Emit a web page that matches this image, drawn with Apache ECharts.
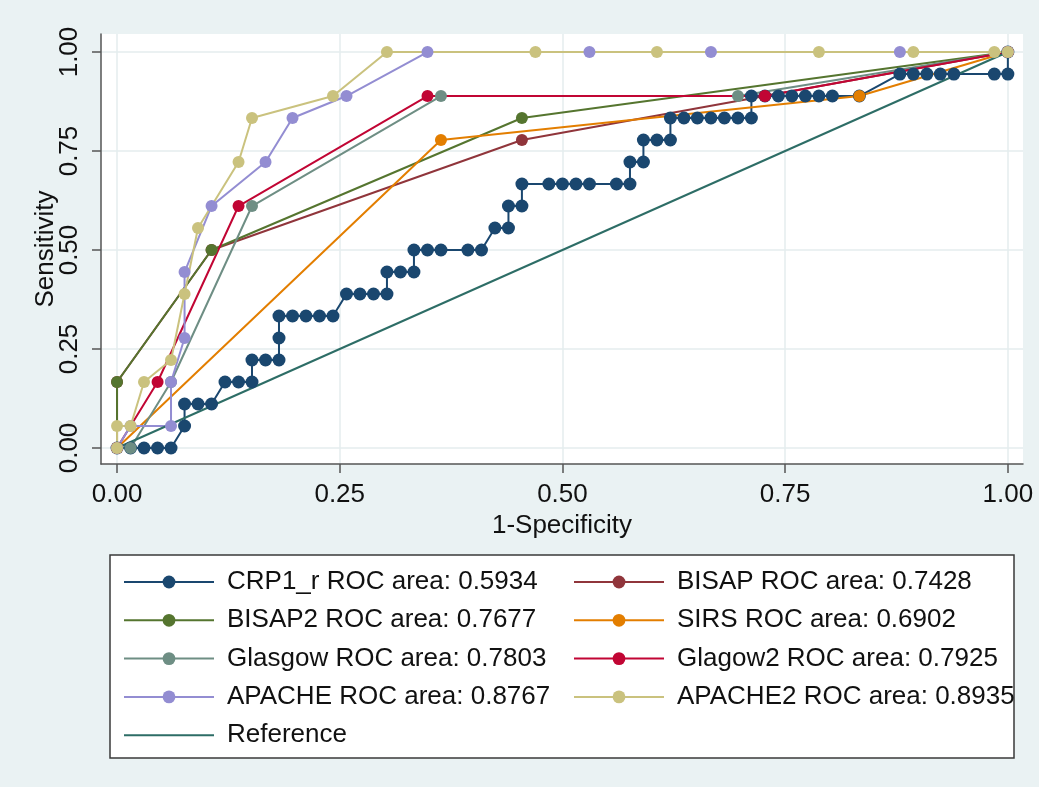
<!DOCTYPE html>
<html>
<head>
<meta charset="utf-8">
<script src="https://cdn.jsdelivr.net/npm/echarts@6/dist/echarts.min.js"></script>
<style>
  html, body { margin: 0; padding: 0; background: #eaf2f3; }
  #chart_1 { width: 1039px; height: 787px; }
</style>
</head>
<body>
<div id="chart_1"></div>
<script>
// tick values on both axes
var xTicks = [0, 0.25, 0.5, 0.75, 1];
var yTicks = [0, 0.25, 0.5, 0.75, 1];

// ROC points, 1-specificity (x) and sensitivity (y)
var crpX = [0, 0.0152, 0.0303, 0.0455, 0.0606, 0.0758, 0.0758, 0.0909, 0.1061, 0.1212, 0.1364, 0.1515,
  0.1515, 0.1667, 0.1818, 0.1818, 0.1818, 0.1970, 0.2121, 0.2273, 0.2424, 0.2576, 0.2727, 0.2879, 0.3030,
  0.3030, 0.3182, 0.3333, 0.3333, 0.3485, 0.3636, 0.3939, 0.4091, 0.4242, 0.4394, 0.4394, 0.4545,
  0.4545, 0.4848, 0.5000, 0.5152, 0.5303, 0.5606, 0.5758, 0.5758, 0.5909, 0.5909, 0.6061, 0.6212,
  0.6212, 0.6364, 0.6515, 0.6667, 0.6818, 0.6970, 0.7121, 0.7121, 0.7273, 0.7424, 0.7576, 0.7727, 0.7879,
  0.8030, 0.8333, 0.8788, 0.8939, 0.9091, 0.9242, 0.9394, 0.9848, 1, 1];
var crpY = [0, 0, 0, 0, 0, 0.0556, 0.1111, 0.1111, 0.1111, 0.1667, 0.1667, 0.1667,
  0.2222, 0.2222, 0.2222, 0.2778, 0.3333, 0.3333, 0.3333, 0.3333, 0.3333, 0.3889, 0.3889, 0.3889, 0.3889,
  0.4444, 0.4444, 0.4444, 0.5, 0.5, 0.5, 0.5, 0.5, 0.5556, 0.5556, 0.6111, 0.6111,
  0.6667, 0.6667, 0.6667, 0.6667, 0.6667, 0.6667, 0.6667, 0.7222, 0.7222, 0.7778, 0.7778, 0.7778,
  0.8333, 0.8333, 0.8333, 0.8333, 0.8333, 0.8333, 0.8333, 0.8889, 0.8889, 0.8889, 0.8889, 0.8889, 0.8889,
  0.8889, 0.8889, 0.9444, 0.9444, 0.9444, 0.9444, 0.9444, 0.9444, 0.9444, 1];

var bisapX = [0, 0, 0.1061, 0.4545, 0.7273, 1];
var bisapY = [0, 0.1667, 0.5, 0.7778, 0.8889, 1];

var bisap2X = [0, 0, 0.1061, 0.4545, 1];
var bisap2Y = [0, 0.1667, 0.5, 0.8333, 1];

var sirsX = [0, 0.3636, 0.8333, 1];
var sirsY = [0, 0.7778, 0.8889, 1];

var glasgowX = [0, 0.0152, 0.0606, 0.1515, 0.3636, 0.6970, 1];
var glasgowY = [0, 0, 0.1667, 0.6111, 0.8889, 0.8889, 1];

var glagow2X = [0, 0.0455, 0.1364, 0.3485, 0.7273, 1];
var glagow2Y = [0, 0.1667, 0.6111, 0.8889, 0.8889, 1];

var apacheX = [0, 0.0152, 0.0606, 0.0606, 0.0758, 0.0758, 0.1061, 0.1667, 0.1970, 0.2576, 0.3485, 0.5303, 0.6667, 0.8788, 1];
var apacheY = [0, 0.0556, 0.0556, 0.1667, 0.2778, 0.4444, 0.6111, 0.7222, 0.8333, 0.8889, 1, 1, 1, 1, 1];

var apache2X = [0, 0, 0.0152, 0.0303, 0.0606, 0.0758, 0.0909, 0.1364, 0.1515, 0.2424, 0.3030, 0.4697, 0.6061, 0.7879, 0.8939, 0.9848, 1];
var apache2Y = [0, 0.0556, 0.0556, 0.1667, 0.2222, 0.3889, 0.5556, 0.7222, 0.8333, 0.8889, 1, 1, 1, 1, 1, 1, 1];

var refX = [0, 1];
var refY = [0, 1];

var names = ['CRP1_r ROC area: 0.5934', 'BISAP ROC area: 0.7428', 'BISAP2 ROC area: 0.7677',
  'SIRS ROC area: 0.6902', 'Glasgow ROC area: 0.7803', 'Glagow2 ROC area: 0.7925',
  'APACHE ROC area: 0.8767', 'APACHE2 ROC area: 0.8935', 'Reference'];
var colors = ['#1a476f', '#90353b', '#55752f', '#e37e00', '#6e8e84', '#c10534', '#938dd2', '#cac27e', '#2d6d66'];

function pairs(xs, ys) {
    var out = [];
    for (var i = 0; i < xs.length; i++) out.push([xs[i], ys[i]]);
    return out;
}

var myChart = echarts.init(document.getElementById('chart_1'));
var font = 'Liberation Sans, Arial, sans-serif';
var textCol = '#111';

var allX = [crpX, bisapX, bisap2X, sirsX, glasgowX, glagow2X, apacheX, apache2X, refX];
var allY = [crpY, bisapY, bisap2Y, sirsY, glasgowY, glagow2Y, apacheY, apache2Y, refY];

var series = [];
for (var i = 0; i < names.length; i++) {
    var isRef = (i === names.length - 1);
    series.push({
        name: names[i],
        type: 'line',
        data: pairs(allX[i], allY[i]),
        symbol: isRef ? 'none' : 'circle',
        symbolSize: i === 0 ? 13 : 12,
        showAllSymbol: true,
        color: colors[i],
        lineStyle: { color: colors[i], width: 2 },
        itemStyle: { color: colors[i] },
        emphasis: { disabled: true }
    });
}

var legendText = { fontSize: 26, fontFamily: font, color: textCol, padding: [0, 0, 0, 8], lineHeight: 30 };

option = {
    backgroundColor: '#eaf2f3',
    animation: false,
    textStyle: { fontFamily: font },
    grid: {
        left: 101, top: 34, width: 922, height: 430,
        show: true, backgroundColor: '#ffffff', borderWidth: 0
    },
    graphic: [{
        type: 'rect',
        z: 0,
        shape: { x: 110, y: 555, width: 904, height: 203 },
        style: { fill: '#ffffff', stroke: '#3a3a3a', lineWidth: 1.5 }
    }],
    legend: [{
        orient: 'vertical', left: 123, top: 567, padding: 0,
        data: [names[0], names[2], names[4], names[6],
            { name: names[8], itemStyle: { opacity: 0 } }],
        itemWidth: 90, itemHeight: 16, itemGap: 8.3,
        textStyle: legendText, selectedMode: false
    }, {
        orient: 'vertical', left: 573, top: 567, padding: 0,
        data: [names[1], names[3], names[5], names[7]],
        itemWidth: 90, itemHeight: 16, itemGap: 8.3,
        textStyle: legendText, selectedMode: false
    }],
    xAxis: {
        type: 'value', min: -0.018, max: 1.017,
        name: '1-Specificity', nameLocation: 'middle', nameGap: 42,
        nameTextStyle: { fontSize: 26, color: textCol, fontFamily: font },
        axisLine: { show: true, onZero: false, lineStyle: { color: '#555', width: 1.5 } },
        axisTick: { show: true, length: 9, customValues: xTicks, lineStyle: { color: '#555', width: 1.5 } },
        axisLabel: { customValues: xTicks, fontSize: 26, color: textCol, margin: 18,
            formatter: function (v) { return v.toFixed(2); } },
        splitLine: { show: true, lineStyle: { color: '#e4ecee', width: 1.5 } }
    },
    yAxis: {
        type: 'value', min: -0.0404, max: 1.0455,
        name: 'Sensitivity', nameLocation: 'middle', nameGap: 42, nameRotate: 90,
        nameMoveOverlap: false,
        nameTextStyle: { fontSize: 26, color: textCol, fontFamily: font },
        axisLine: { show: true, onZero: false, lineStyle: { color: '#555', width: 1.5 } },
        axisTick: { show: true, length: 9, customValues: yTicks, lineStyle: { color: '#555', width: 1.5 } },
        axisLabel: { customValues: yTicks, fontSize: 26, color: textCol, margin: 18, rotate: 90,
            formatter: function (v) { return v.toFixed(2); } },
        splitLine: { show: true, lineStyle: { color: '#e4ecee', width: 1.5 } }
    },
    series: series
};

if (option && typeof option === 'object')
    myChart.setOption(option);
window.addEventListener("resize", function () {
    myChart.resize();
});
</script>
</body>
</html>
